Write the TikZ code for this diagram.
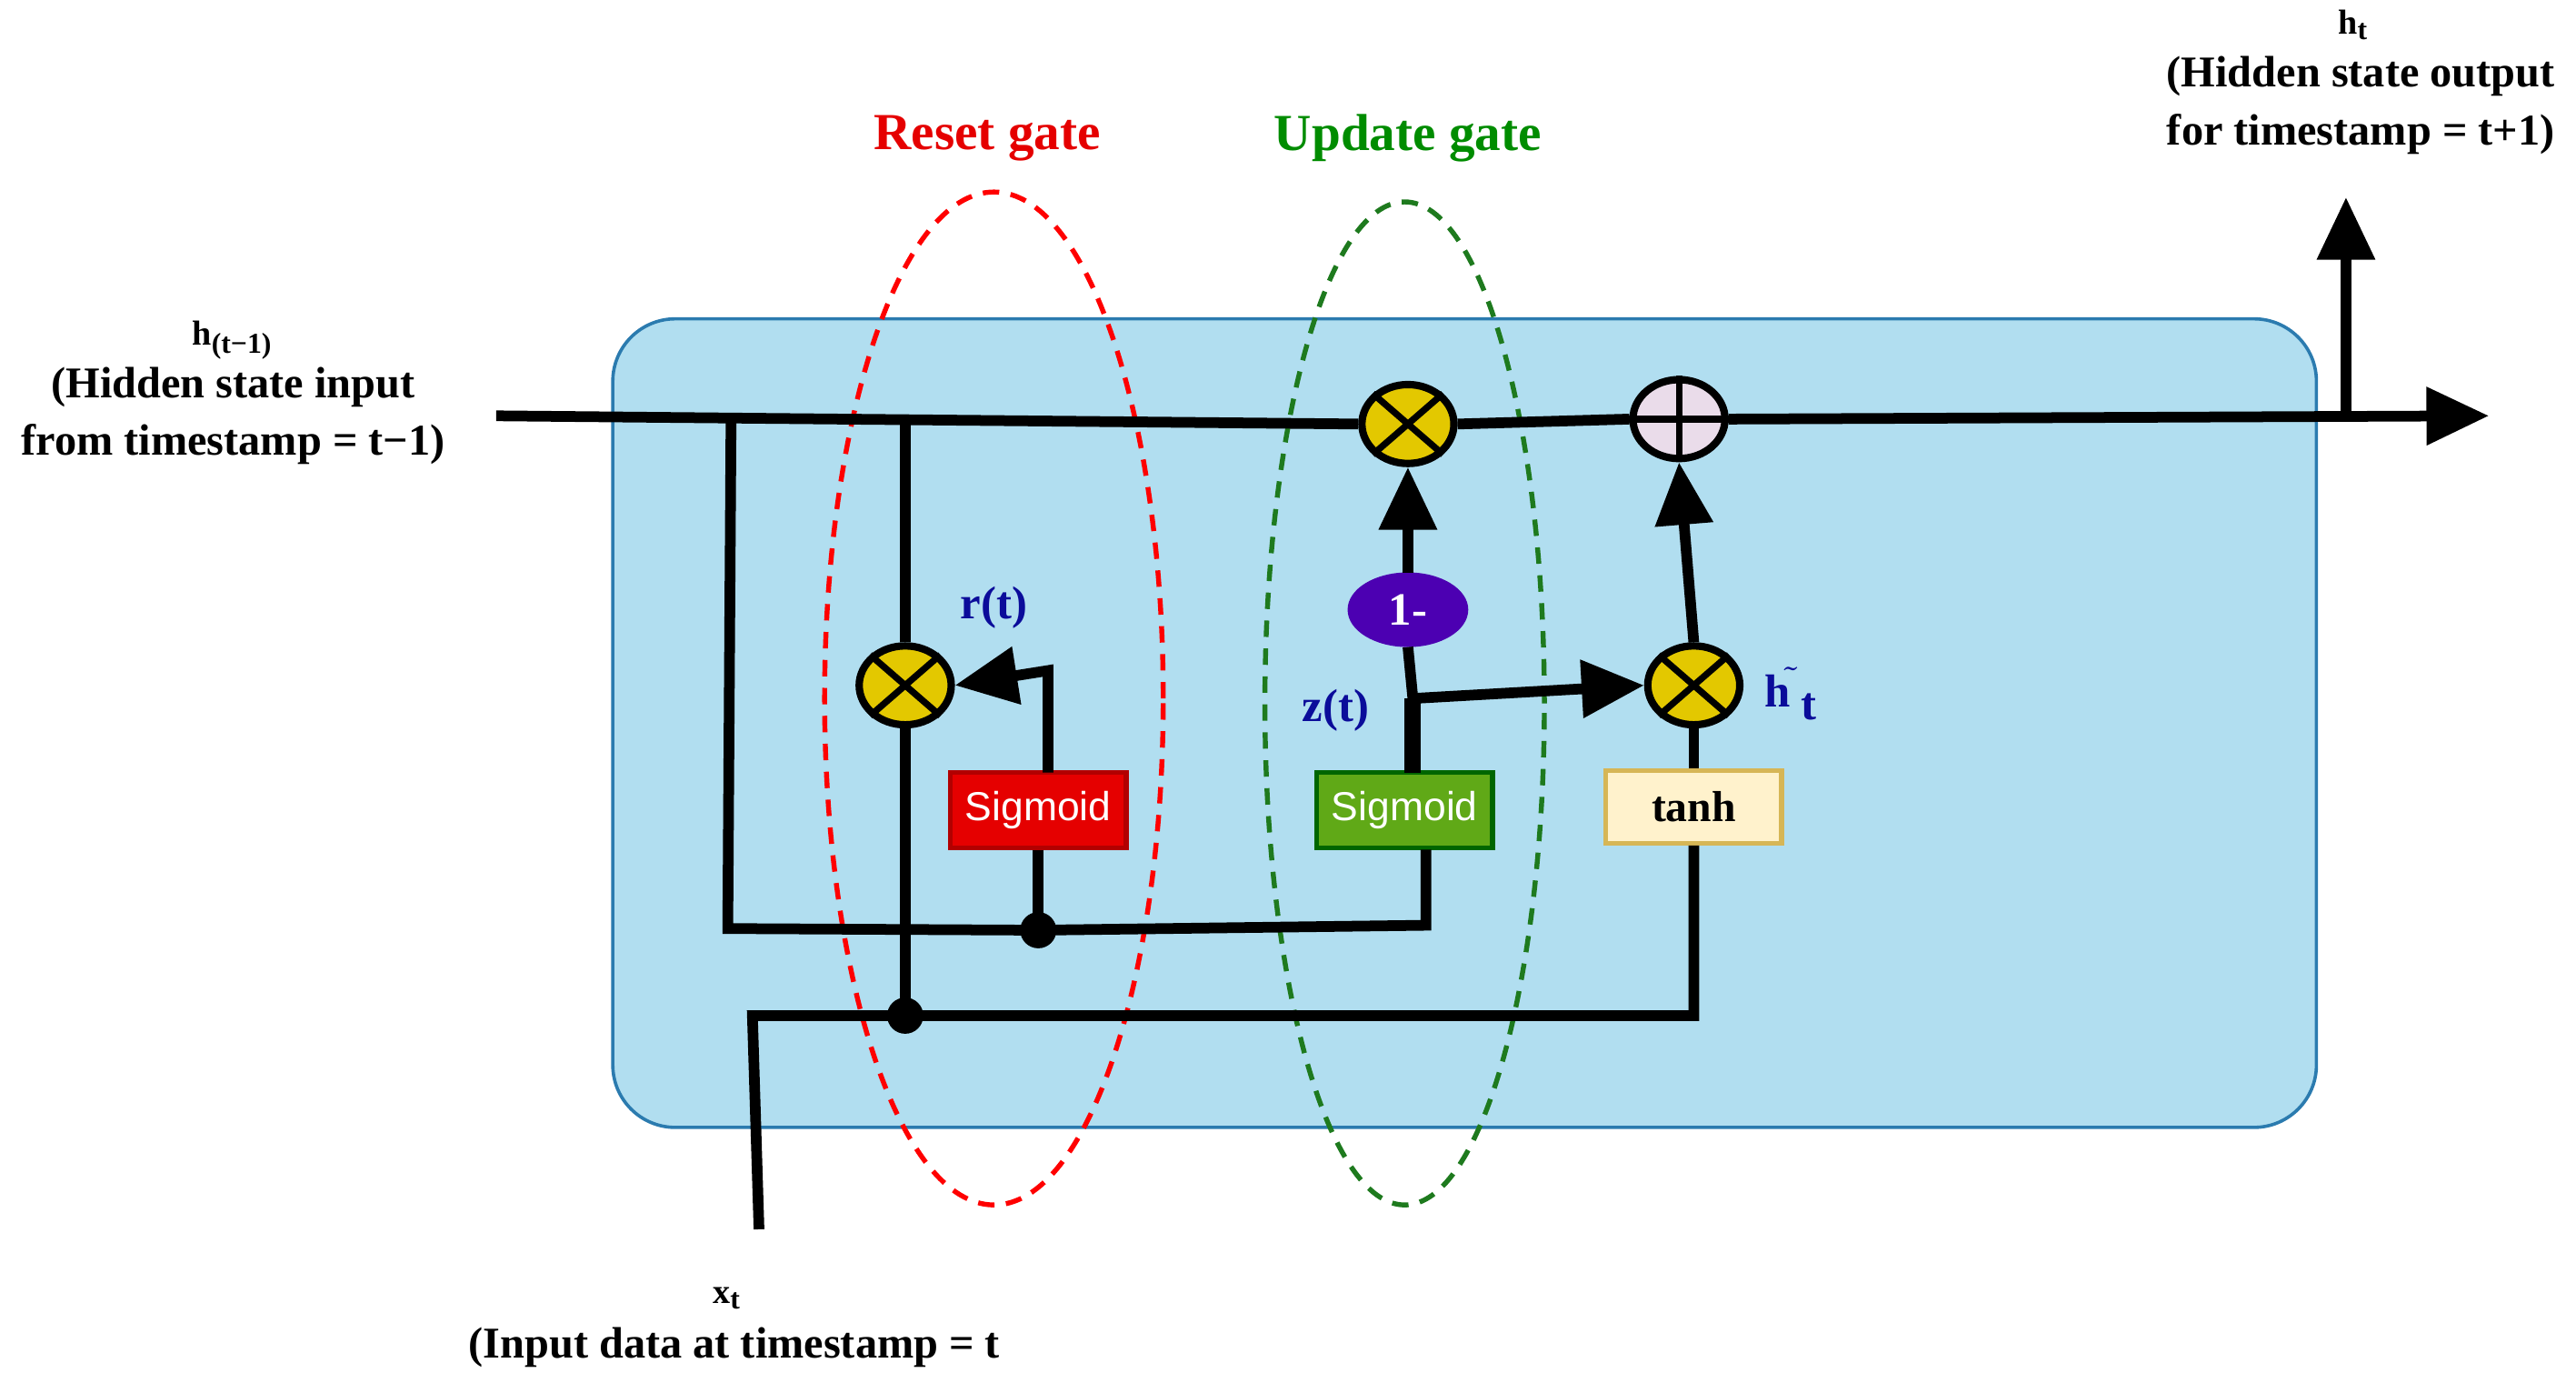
\documentclass[tikz,border=0pt]{standalone}
\usepackage{fontspec}
\setmainfont{Liberation Serif}
\newfontfamily\sansf{Liberation Sans}
\usetikzlibrary{arrows.meta,shapes.geometric}
\definecolor{bgblue}{HTML}{B1DEF0}
\definecolor{bgedge}{HTML}{2B7BAF}
\definecolor{lblue}{HTML}{0B0C9A}
\definecolor{multy}{HTML}{E3C800}
\definecolor{plusc}{HTML}{EADCEA}
\definecolor{gdark}{HTML}{1E7A1E}
\begin{document}
\begin{tikzpicture}[x=0.01cm,y=-0.01cm,
  wire/.style={line width=0.065cm,black},
  arr/.style={wire,-{Triangle[length=0.38cm,width=0.34cm]}},
  opc/.style={ellipse,draw=black,line width=0.045cm,minimum width=0.56cm,minimum height=0.48cm,inner sep=0pt},
  box/.style={draw,line width=0.03cm,minimum width=1.07cm,minimum height=0.46cm,inner sep=0pt},
  lab/.style={font=\bfseries\fontsize{7.6}{9}\selectfont,align=center},
  blab/.style={font=\bfseries\fontsize{8}{9}\selectfont,text=lblue},
  dot/.style={circle,fill=black,minimum size=0.22cm,inner sep=0pt}]
\useasboundingbox (0,0) rectangle (1568,841);
\fill[bgblue,draw=bgedge,line width=0.02cm,rounded corners=0.38cm] (373,194) rectangle (1410,686);
% gates
\draw[red,dashed,line width=0.03cm,dash pattern=on 0.1cm off 0.07cm] (605,425) ellipse [x radius=1.03cm,y radius=3.08cm];
\draw[gdark,dashed,line width=0.03cm,dash pattern=on 0.1cm off 0.07cm] (855,428) ellipse [x radius=0.85cm,y radius=3.05cm];
\node[lab,text=red!90!black,font=\bfseries\fontsize{9}{10}\selectfont] (rg) at (601,84) {Reset gate};
\node[lab,text=green!55!black,font=\bfseries\fontsize{9}{10}\selectfont] (ug) at (857,84) {Update gate};
% nodes
\coordinate (hin) at (302,253);
\coordinate (hout) at (1515,253);
\coordinate (hup0) at (1428,253);
\coordinate (hup) at (1428,120);
\node[opc,fill=multy] (m1) at (857,258) {};
\draw[line width=0.04cm] (m1.north west) -- (m1.south east) (m1.north east) -- (m1.south west);
\node[opc,fill=plusc] (p1) at (1022,255) {};
\draw[line width=0.04cm] (p1.north) -- (p1.south) (p1.west) -- (p1.east);
\node[opc,fill=multy] (mr) at (551,417) {};
\draw[line width=0.04cm] (mr.north west) -- (mr.south east) (mr.north east) -- (mr.south west);
\node[opc,fill=multy] (mh) at (1031,417) {};
\draw[line width=0.04cm] (mh.north west) -- (mh.south east) (mh.north east) -- (mh.south west);
\node[ellipse,fill=violet!60!blue,draw=violet!60!blue,minimum width=0.72cm,minimum height=0.44cm,inner sep=0pt,text=white,font=\bfseries\fontsize{8}{9}\selectfont] (om) at (857,371) {1-};
\node[box,fill=red!90!black,draw=red!70!black,text=white,font=\sansf\fontsize{7}{8}\selectfont] (sr) at (632,493) {Sigmoid};
\node[box,fill=green!50!black!80!lime,draw=green!40!black,text=white,font=\sansf\fontsize{7}{8}\selectfont,fill={rgb,255:red,96;green,169;blue,23}] (sz) at (855,493) {Sigmoid};
\node[box,fill={rgb,255:red,255;green,242;blue,204},draw={rgb,255:red,214;green,182;blue,86},font=\bfseries\fontsize{7.5}{9}\selectfont,minimum height=0.44cm] (th) at (1031,491) {tanh};
\node[dot] (d1) at (632,566) {};
\node[dot] (d2) at (551,618) {};
\coordinate (xin) at (462,748);
% wires
\draw[wire] (hin) -- (m1.west);
\draw[wire] (m1.east) -- (p1.west);
\draw[arr] (p1.east) -- (hout);
\draw[arr] (hup0) -- (hup);
\draw[wire] (445,253) -- (443,565) -- (d1.center) -- (868,563) -- (868,517);
\draw[wire] (551,253) -- (mr.north);
\draw[wire] (mr.south) -- (d2.center);
\draw[wire] (d1.center) -- (sr.south);
\draw[arr] (638,470) -- (638,408) -- (mr.east);
\draw[wire] (xin) -- (458,618) -- (d2.center) -- (1031,618) -- (th.south);
\draw[wire] (th.north) -- (mh.south);
\draw[arr] (mh.north) -- (p1.south);
\draw[wire,line width=0.1cm] (860,470) -- (860,425);
\draw[wire] (860,425) -- (om.south);
\draw[arr] (om.north) -- (m1.south);
\draw[arr] (860,425) -- (mh.west);
% labels
\node[blab] (rl) at (605,370) {r(t)};
\node[blab] (zl) at (813,432) {z(t)};
\node[blab] (hl) at (1090,422) {h$^{\tilde{}}$\,\raisebox{-0.6ex}{t}};
\node[lab,font=\bfseries\fontsize{6}{7}\selectfont] (hprev) at (142,207) {h\textsubscript{(t\textminus1)}};
\node[lab] (hprevt) at (142,253) {(Hidden state input\\[1pt]from timestamp = t\textminus1)};
\node[lab,font=\bfseries\fontsize{6}{7}\selectfont] (hnext) at (1433,15) {h\textsubscript{t}};
\node[lab] (hnextt) at (1437,64) {(Hidden state output\\[1pt]for timestamp = t+1)};
\node[lab,font=\bfseries\fontsize{6}{7}\selectfont] (xl) at (443,790) {x\textsubscript{t}};
\node[lab] (xlt) at (447,820) {(Input data at timestamp = t};
\end{tikzpicture}
\end{document}
